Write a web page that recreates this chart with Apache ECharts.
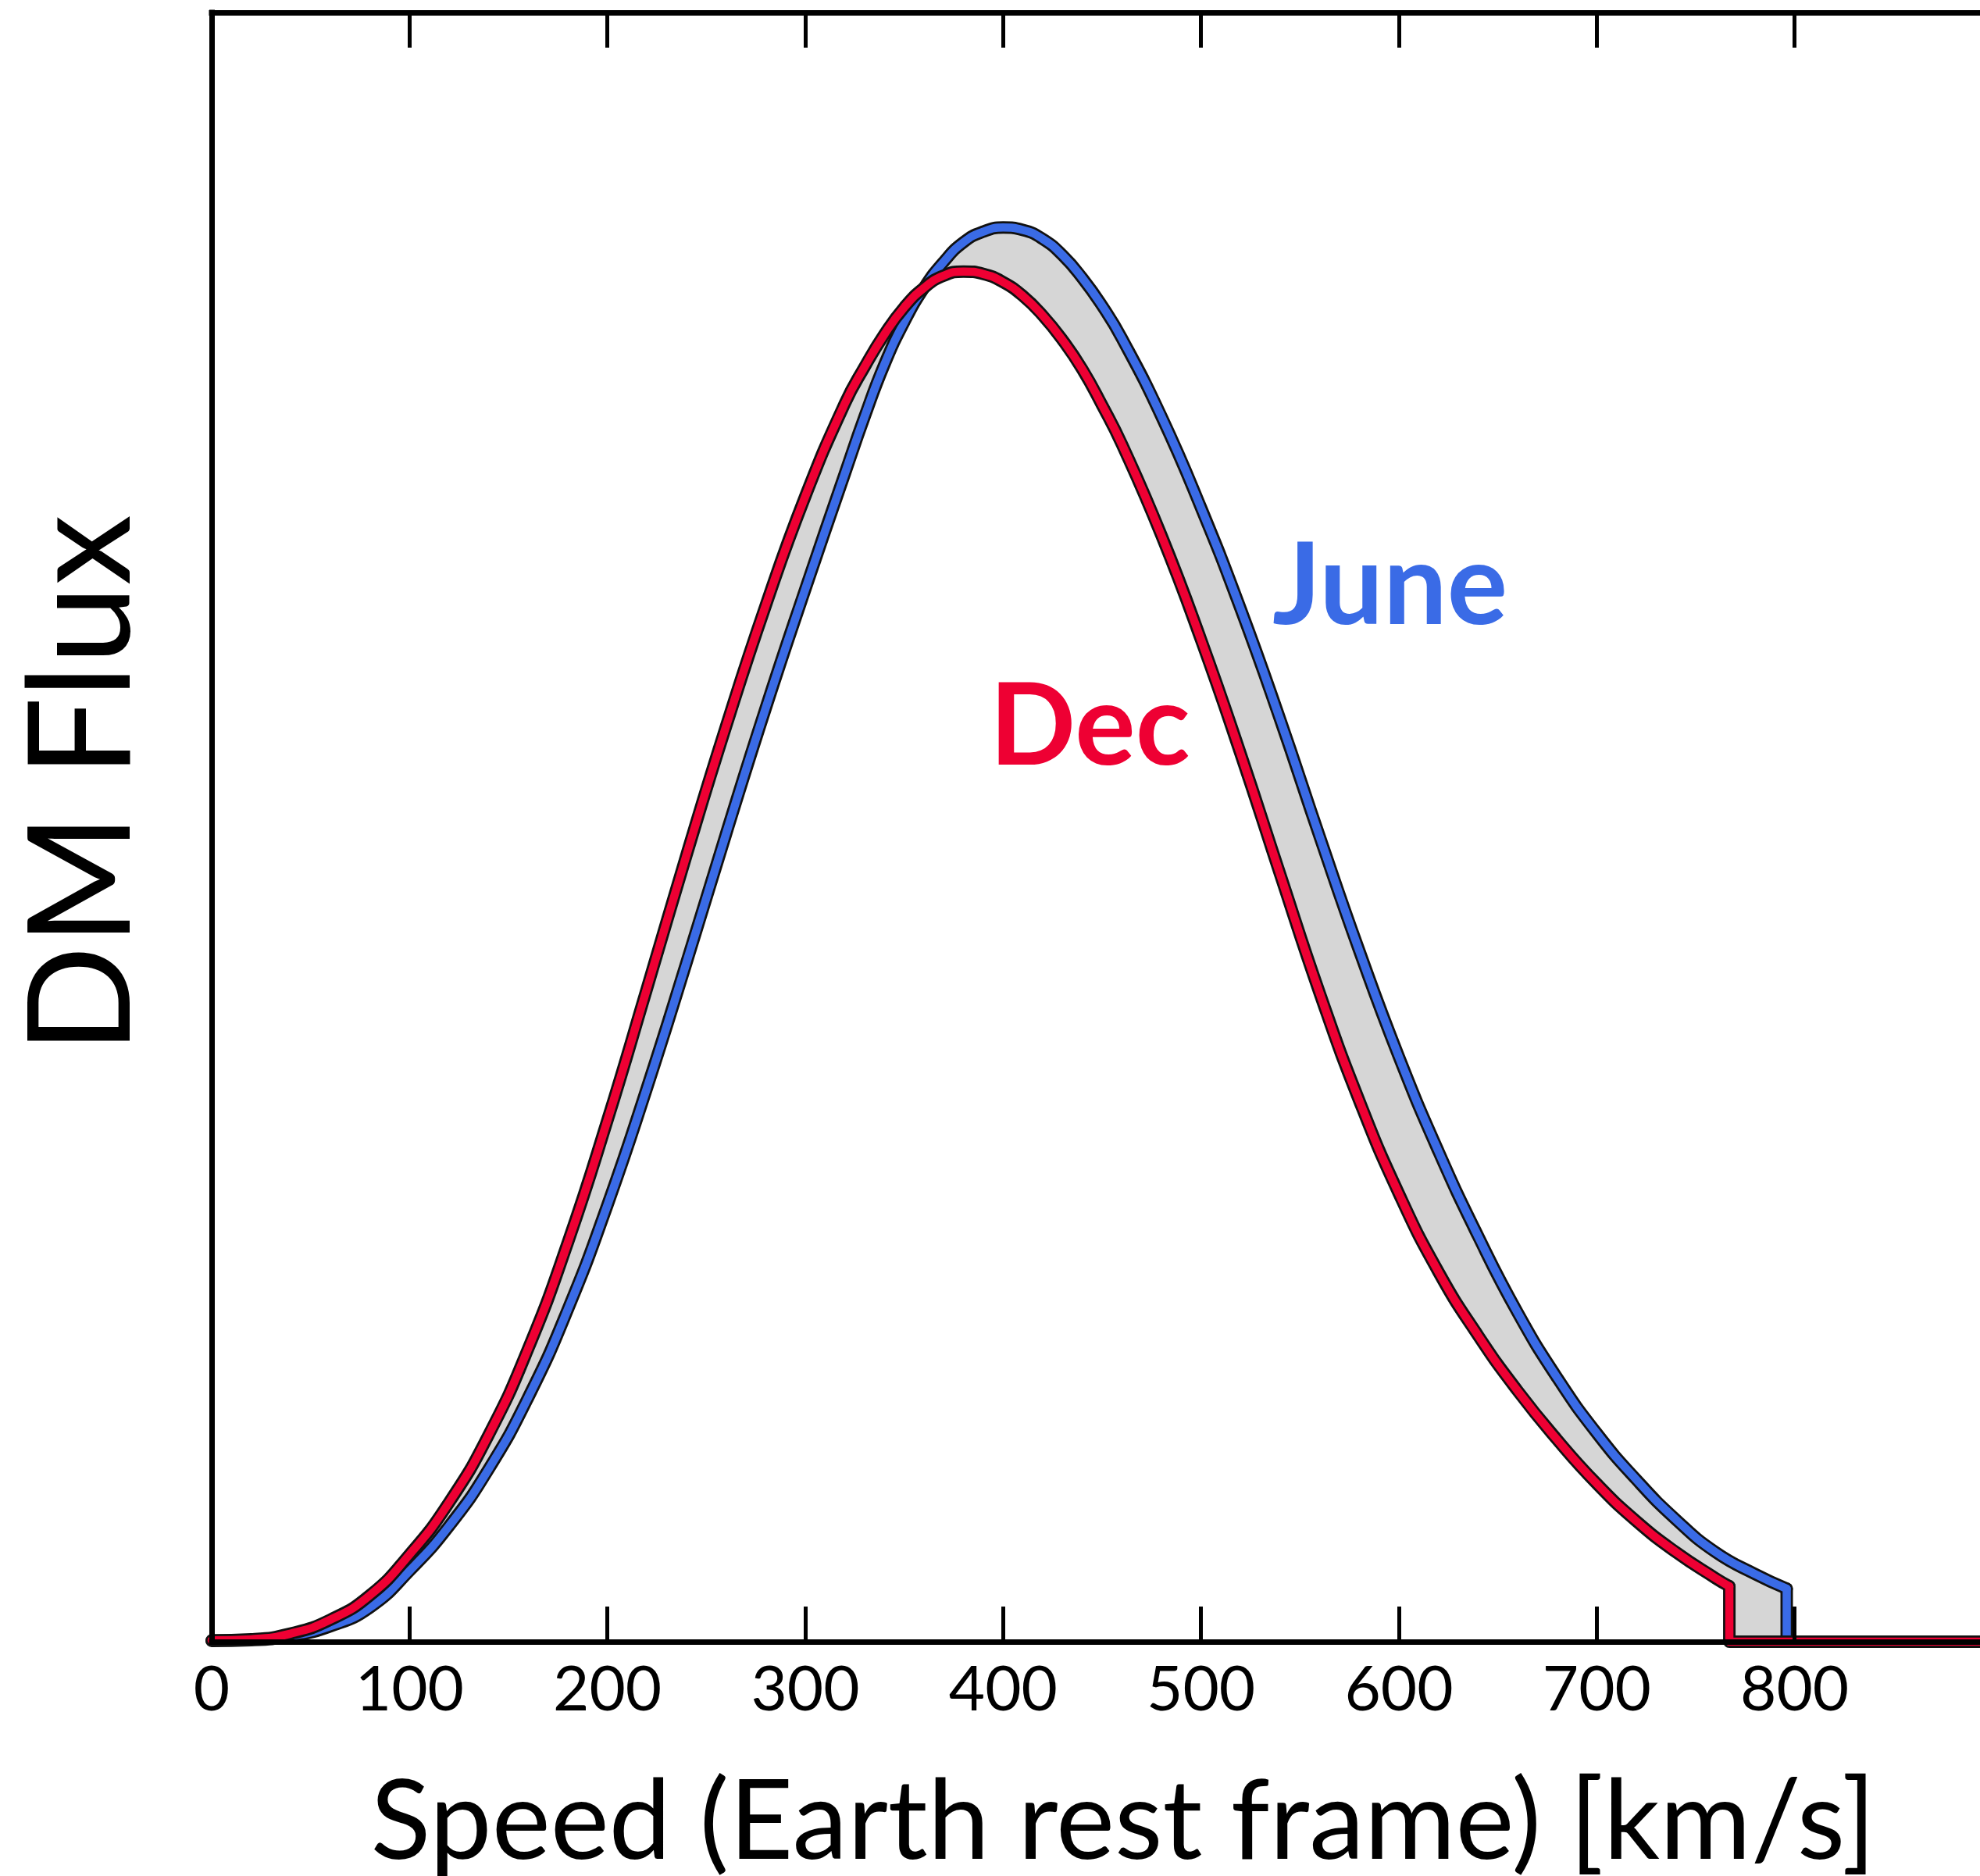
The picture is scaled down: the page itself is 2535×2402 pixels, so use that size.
<!DOCTYPE html>
<html>
<head>
<meta charset="utf-8">
<script src="https://cdn.jsdelivr.net/npm/echarts@6/dist/echarts.min.js"></script>
<style>
html,body{margin:0;padding:0;background:#ffffff;}
#chart{width:2535px;height:2402px;}
</style>
</head>
<body>
<div id="chart"></div>
<script>
// ---- data (speed in km/s, Earth rest frame; flux in arbitrary units, axis 0..1) ----
const speedKms = [0,20,40,60,80,100,120,140,160,180,200,220,240,260,280,300,320,
                  330,340,350,360,370,380,390,400,410,420,430,440,450,
                  460,480,500,520,540,560,580,600,620,640,660,680,700,720,740,760];
const decFlux  = [0.0008,0.0015,0.005,0.0135,0.0285,0.0535,0.0855,0.127,0.180,0.245,
                  0.320,0.401,0.483,0.562,0.636,0.703,0.760,
                  0.7825,0.8025,0.819,0.831,0.8385,0.841,0.8395,0.8345,0.826,0.814,0.799,0.781,0.759,
                  0.735,0.679,0.615,0.545,0.471,0.398,0.332,0.275,0.227,0.188,0.154,0.124,0.097,0.074,0.055,0.039];
const juneFlux = [0.0005,0.001,0.0035,0.0095,0.021,0.0435,0.071,0.106,0.150,0.204,
                  0.268,0.340,0.417,0.496,0.573,0.646,0.717,
                  0.752,0.784,0.810,0.831,0.847,0.859,0.8655,0.868,0.8665,0.861,0.851,0.837,0.820,
                  0.800,0.752,0.696,0.634,0.566,0.494,0.424,0.359,0.301,0.249,0.202,0.162,0.128,0.0995,0.075,0.055];
const decTailSpeed  = [767];
const decTailFlux   = [0.034];
const juneTailSpeed = [780, 796];
const juneTailFlux  = [0.0415, 0.0325];
const decCutoff  = 767;   // escape-speed cut-off, December
const juneCutoff = 796;   // escape-speed cut-off, June
const xMax = 900;
const xTickLabels = ['0','100','200','300','400','500','600','700','800'];
const seriesNames = ['June','Dec'];

const BLUE = '#3a6be6';
const RED  = '#ee0033';
const OUT  = '#111111';

function pairs(xs, ys){ return xs.map((x,i)=>[x, ys[i]]); }
const decPts  = pairs(speedKms.concat(decTailSpeed),  decFlux.concat(decTailFlux));
const junePts = pairs(speedKms.concat(juneTailSpeed), juneFlux.concat(juneTailFlux));
const decEdge  = [[decCutoff, decTailFlux[decTailFlux.length-1]], [decCutoff, 0], [xMax, 0]];
const juneEdge = [[juneCutoff, juneTailFlux[juneTailFlux.length-1]], [juneCutoff, 0]];
const bandPoly = decPts.concat([[decCutoff,0],[juneCutoff,0]], junePts.slice().reverse());

function line(name, data, color, width, z, smooth){
  return {type:'line', name, data, smooth, showSymbol:false, symbol:'none', z, silent:true,
          lineStyle:{color, width, cap:'round', join:'round'}, animation:false};
}

const chart = echarts.init(document.getElementById('chart'), null, {renderer:'canvas'});

const axisLineStyle = {color:'#000', width:7, cap:'square'};
const tickStyle = {show:true, inside:true, length:45, lineStyle:{color:'#000', width:5}};
const OUTW = 16, COLW = 10.5;

chart.setOption({
  animation:false,
  backgroundColor:'#ffffff',
  textStyle:{fontFamily:'Lato'},
  grid:{left:271, right:-16, top:16, bottom:300, containLabel:false, outerBoundsMode:'none'},
  xAxis:[{
    type:'value', position:'bottom', min:0, max:xMax, interval:100, z:20,
    axisLine:{show:true, onZero:false, lineStyle:axisLineStyle},
    axisTick:tickStyle,
    splitLine:{show:false},
    axisLabel:{show:true, margin:22, fontSize:80, fontFamily:'Lato', color:'#000',
               showMaxLabel:false,
               formatter:(v)=> xTickLabels[Math.round(v/100)] || ''},
    name:'Speed (Earth rest frame) [km/s]', nameLocation:'middle', nameGap:161,
    nameTextStyle:{fontFamily:'Lato', fontSize:142, color:'#000', padding:[0,0,0,54]}
  },{
    type:'value', position:'top', min:0, max:xMax, interval:100, z:20,
    axisLine:{show:true, onZero:false, lineStyle:axisLineStyle},
    axisTick:tickStyle,
    splitLine:{show:false},
    axisLabel:{show:false}
  }],
  yAxis:{
    type:'value', min:0, max:1, z:20,
    axisLine:{show:true, onZero:false, lineStyle:axisLineStyle},
    axisTick:{show:false}, axisLabel:{show:false}, splitLine:{show:false},
    name:'DM Flux', nameLocation:'middle', nameGap:73,
    nameTextStyle:{fontFamily:'Lato', fontSize:182, color:'#000', padding:[0,0,0,110]}
  },
  graphic:[
    {type:'text', left:1629, top:680, z:30, silent:true,
     style:{text:seriesNames[0], font:'bold 145px Lato', fill:BLUE}},
    {type:'text', left:1267, top:860, z:30, silent:true,
     style:{text:seriesNames[1], font:'bold 145px Lato', fill:RED}}
  ],
  series:[
    {type:'custom', coordinateSystem:'cartesian2d', z:2, silent:true, data:[[0,0]],
     renderItem:(params, api)=>({type:'polygon',
        shape:{points: bandPoly.map(p=>api.coord(p))},
        style:{fill:'#d6d6d6', stroke:null}})},
    line('June outline', junePts, OUT, OUTW, 3, 0.5),
    line('June outline edge', juneEdge, OUT, OUTW, 3, false),
    line('June', junePts, BLUE, COLW, 4, 0.5),
    line('June edge', juneEdge, BLUE, COLW, 4, false),
    line('Dec outline', decPts, OUT, OUTW, 5, 0.5),
    line('Dec outline edge', decEdge, OUT, OUTW, 5, false),
    line('Dec', decPts, RED, COLW, 6, 0.5),
    line('Dec edge', decEdge, RED, COLW, 6, false)
  ]
});
</script>
</body>
</html>
